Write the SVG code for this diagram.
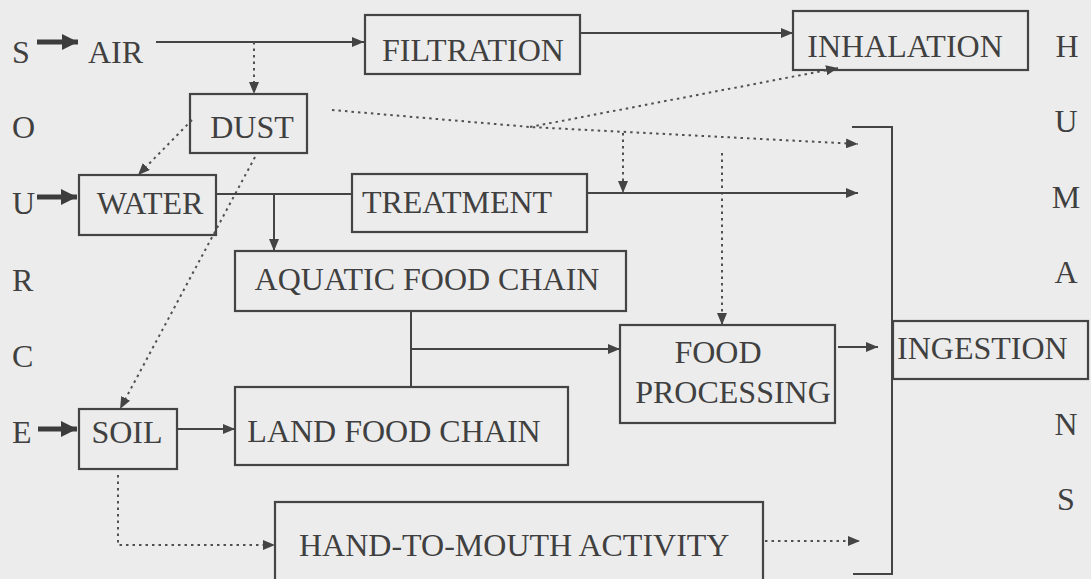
<svg xmlns="http://www.w3.org/2000/svg" width="1091" height="579" viewBox="0 0 1091 579">
<style>
text{font-family:"Liberation Serif","Times New Roman",serif;font-size:32px;fill:#404040}
.m{text-anchor:middle}
.box{fill:none;stroke:#444;stroke-width:2.2}
.ln{fill:none;stroke:#444;stroke-width:2}
.dot{fill:none;stroke:#505050;stroke-width:2;stroke-dasharray:2.5 4}
.thick{fill:none;stroke:#3c3c3c;stroke-width:5}
</style>
<defs>
<marker id="ah" markerUnits="userSpaceOnUse" markerWidth="12" markerHeight="10" refX="12" refY="5" orient="auto"><path d="M0,0L12,5L0,10z" fill="#444"/></marker>
<marker id="tk" markerUnits="userSpaceOnUse" markerWidth="16" markerHeight="16" refX="16" refY="8" orient="auto"><path d="M0,0L16,8L0,16z" fill="#3c3c3c"/></marker>
</defs>
<rect width="1091" height="579" fill="#ececec"/>
<g id="source-label">
<text x="12" y="63">S</text><text x="12" y="138">O</text><text x="12" y="214">U</text><text x="12" y="291">R</text><text x="12" y="367">C</text><text x="12" y="443">E</text>
</g>
<g id="humans-label">
<text class="m" x="1067" y="57">H</text><text class="m" x="1066" y="132">U</text><text class="m" x="1066" y="208">M</text><text class="m" x="1066" y="283">A</text><text class="m" x="1066" y="435">N</text><text class="m" x="1066" y="510">S</text>
</g>
<g id="air"><text x="88" y="63">AIR</text></g>
<g id="filtration"><rect class="box" x="365" y="15" width="215" height="59"/><text class="m" x="473" y="61">FILTRATION</text></g>
<g id="inhalation"><rect class="box" x="793" y="11" width="235" height="59"/><text class="m" x="905" y="57">INHALATION</text></g>
<g id="dust"><rect class="box" x="190" y="94" width="117" height="59"/><text class="m" x="252" y="138">DUST</text></g>
<g id="water"><rect class="box" x="79" y="175" width="137" height="60"/><text class="m" x="150" y="214">WATER</text></g>
<g id="treatment"><rect class="box" x="352" y="174" width="235" height="58"/><text class="m" x="457" y="213">TREATMENT</text></g>
<g id="aquatic"><rect class="box" x="235" y="251" width="391" height="60"/><text class="m" x="427" y="290">AQUATIC FOOD CHAIN</text></g>
<g id="land"><rect class="box" x="235" y="387" width="333" height="78"/><text class="m" x="394" y="442">LAND FOOD CHAIN</text></g>
<g id="soil"><rect class="box" x="79" y="409" width="98" height="60"/><text class="m" x="127" y="443">SOIL</text></g>
<g id="food-processing"><rect class="box" x="620" y="325" width="215" height="98"/><text class="m" x="718" y="363">FOOD</text><text class="m" x="733" y="403">PROCESSING</text></g>
<g id="ingestion"><rect class="box" x="893" y="321" width="195" height="58"/><text x="897" y="359">INGESTION</text><path class="ln" d="M852,127H892V574H853"/></g>
<g id="hand"><rect class="box" x="275" y="502" width="488" height="82"/><text x="299" y="556">HAND-TO-MOUTH ACTIVITY</text></g>
<g id="connectors">
<path class="thick" d="M37,42H78" marker-end="url(#tk)"/>
<path class="thick" d="M37,197H77" marker-end="url(#tk)"/>
<path class="thick" d="M38,429H77" marker-end="url(#tk)"/>
<path class="ln" d="M156,42H364" marker-end="url(#ah)"/>
<path class="ln" d="M580,33H793" marker-end="url(#ah)"/>
<path class="dot" d="M254,42V94" marker-end="url(#ah)"/>
<path class="dot" d="M192,120L138,175" marker-end="url(#ah)"/>
<path class="dot" d="M255,157L120,409" marker-end="url(#ah)"/>
<path class="dot" d="M332,110L530,127L858,144" marker-end="url(#ah)"/>
<path class="dot" d="M530,127L838,68" marker-end="url(#ah)"/>
<path class="dot" d="M623,133V193" marker-end="url(#ah)"/>
<path class="dot" d="M722,153V325" marker-end="url(#ah)"/>
<path class="ln" d="M216,194H352"/>
<path class="ln" d="M274,194V251" marker-end="url(#ah)"/>
<path class="ln" d="M587,193H858" marker-end="url(#ah)"/>
<path class="ln" d="M411,311V387"/>
<path class="ln" d="M411,349H620" marker-end="url(#ah)"/>
<path class="ln" d="M177,429H235" marker-end="url(#ah)"/>
<path class="dot" d="M118,475V545H275" marker-end="url(#ah)"/>
<path class="dot" d="M765,541H860" marker-end="url(#ah)"/>
<path class="ln" d="M838,347H878" marker-end="url(#ah)"/>
</g>
</svg>
